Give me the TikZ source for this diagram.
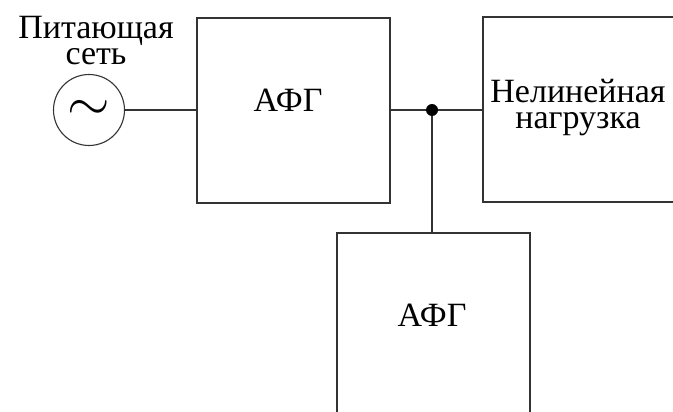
\documentclass[tikz,border=0pt]{standalone}
\usepackage{fontspec}
\setmainfont{Liberation Serif}
\usetikzlibrary{positioning}

\begin{document}
\begin{tikzpicture}[x=1pt,y=-1pt,thick,
    block node/.style={rectangle,draw=black!80,line width=1.3pt,inner sep=0pt},
    text node/.style={font=\fontsize{34}{26}\selectfont,align=center,inner sep=0pt}]
    \useasboundingbox (0,0) rectangle (673,412);
    \clip (0,0) rectangle (673,412);
    \node[circle,draw=black!80,line width=1.1pt,minimum size=71pt,inner sep=0pt] (1) at (89,110) {\scalebox{2.2}{\Huge$\sim$}};
    \node[block node,minimum width=193pt,minimum height=185pt] (2) at (293.5,110.5) {};
    \node[block node,minimum width=197pt,minimum height=185pt] (3) at (581.5,109.5) {};
    \node[block node,minimum width=193pt,minimum height=197pt] (4) at (433.5,331.5) {};
    \node[circle,fill=black,inner sep=0pt,minimum size=12pt] (5) at (432,110) {};
    \node[text node,anchor=north] (6) at (96,16) {Питающая\\сеть};
    \node[text node,anchor=base] (7) at (288,112) {АФГ};
    \node[text node,anchor=north] (8) at (578,79) {Нелинейная\\нагрузка};
    \node[text node,anchor=base] (9) at (432,326) {АФГ};
    \path[draw=black!80,line width=1.3pt]
    (1.east) edge (1.east -| 2.west)
    (2.east |- 5) edge (5)
    (5) edge (5 -| 3.west)
    (5) edge (5 |- 4.north);
\end{tikzpicture}
\end{document}
